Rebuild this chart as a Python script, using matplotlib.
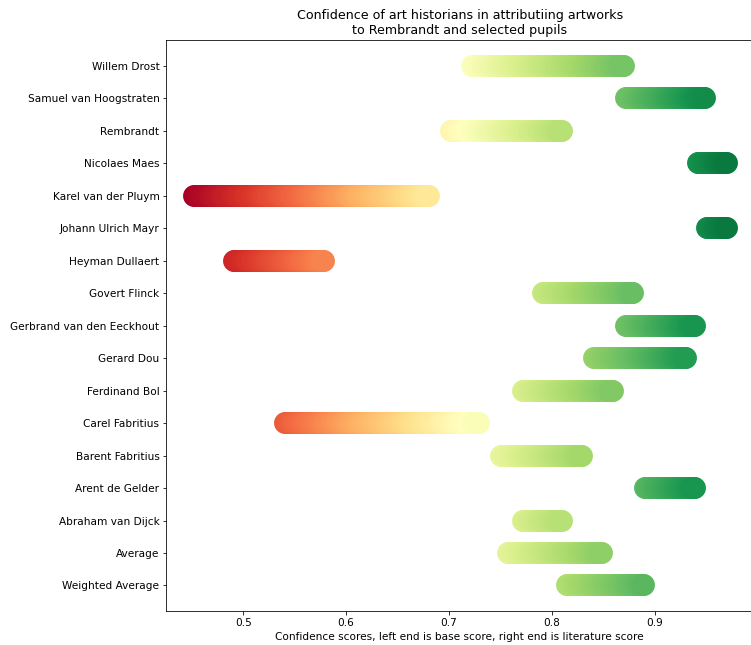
import numpy as np
import matplotlib
matplotlib.use("Agg")
import matplotlib.pyplot as plt
from matplotlib.collections import LineCollection
from matplotlib.colors import Normalize

# artists, top to bottom
ARTISTS = [
    "Willem Drost",
    "Samuel van Hoogstraten",
    "Rembrandt",
    "Nicolaes Maes",
    "Karel van der Pluym",
    "Johann Ulrich Mayr",
    "Heyman Dullaert",
    "Govert Flinck",
    "Gerbrand van den Eeckhout",
    "Gerard Dou",
    "Ferdinand Bol",
    "Carel Fabritius",
    "Barent Fabritius",
    "Arent de Gelder",
    "Abraham van Dijck",
    "Average",
    "Weighted Average",
]

BASE_SCORE = [0.722, 0.872, 0.702, 0.942, 0.452, 0.951, 0.491, 0.791, 0.872,
              0.841, 0.772, 0.541, 0.751, 0.891, 0.772, 0.757, 0.815]
LIT_SCORE = [0.870, 0.949, 0.810, 0.970, 0.681, 0.970, 0.579, 0.879, 0.939,
             0.930, 0.859, 0.729, 0.829, 0.939, 0.810, 0.849, 0.890]

cmap = plt.get_cmap("RdYlGn")
norm = Normalize(vmin=0.45, vmax=0.99)

fig = plt.figure(figsize=(751 / 72, 645 / 72), dpi=72)
ax = fig.add_axes([0.2217, 0.052, 0.7810, 0.886])

# each bar is a run of short round-capped segments coloured by x
for i, (b, l) in enumerate(zip(BASE_SCORE, LIT_SCORE)):
    xs = np.linspace(b, l, 120)
    pts = np.column_stack([xs, np.full_like(xs, i)])
    segs = np.stack([pts[:-1], pts[1:]], axis=1)
    mids = (xs[:-1] + xs[1:]) / 2
    lc = LineCollection(segs, colors=cmap(norm(mids)), linewidths=22,
                        capstyle="round")
    ax.add_collection(lc)

ax.set_yticks(range(len(ARTISTS)))
ax.set_yticklabels(ARTISTS, fontsize=10.5)
ax.set_ylim(len(ARTISTS) - 1 + 0.8, -0.8)
ax.set_xlim(0.4255, 0.9955)
ax.set_xticks([0.5, 0.6, 0.7, 0.8, 0.9])
ax.tick_params(axis="x", labelsize=10.5)
ax.set_xlabel("Confidence scores, left end is base score, right end is literature score",
              fontsize=10.5)
ax.set_title("Confidence of art historians in attributiing artworks\nto Rembrandt and selected pupils",
             fontsize=12.6)

fig.savefig("out.png", dpi=72)
